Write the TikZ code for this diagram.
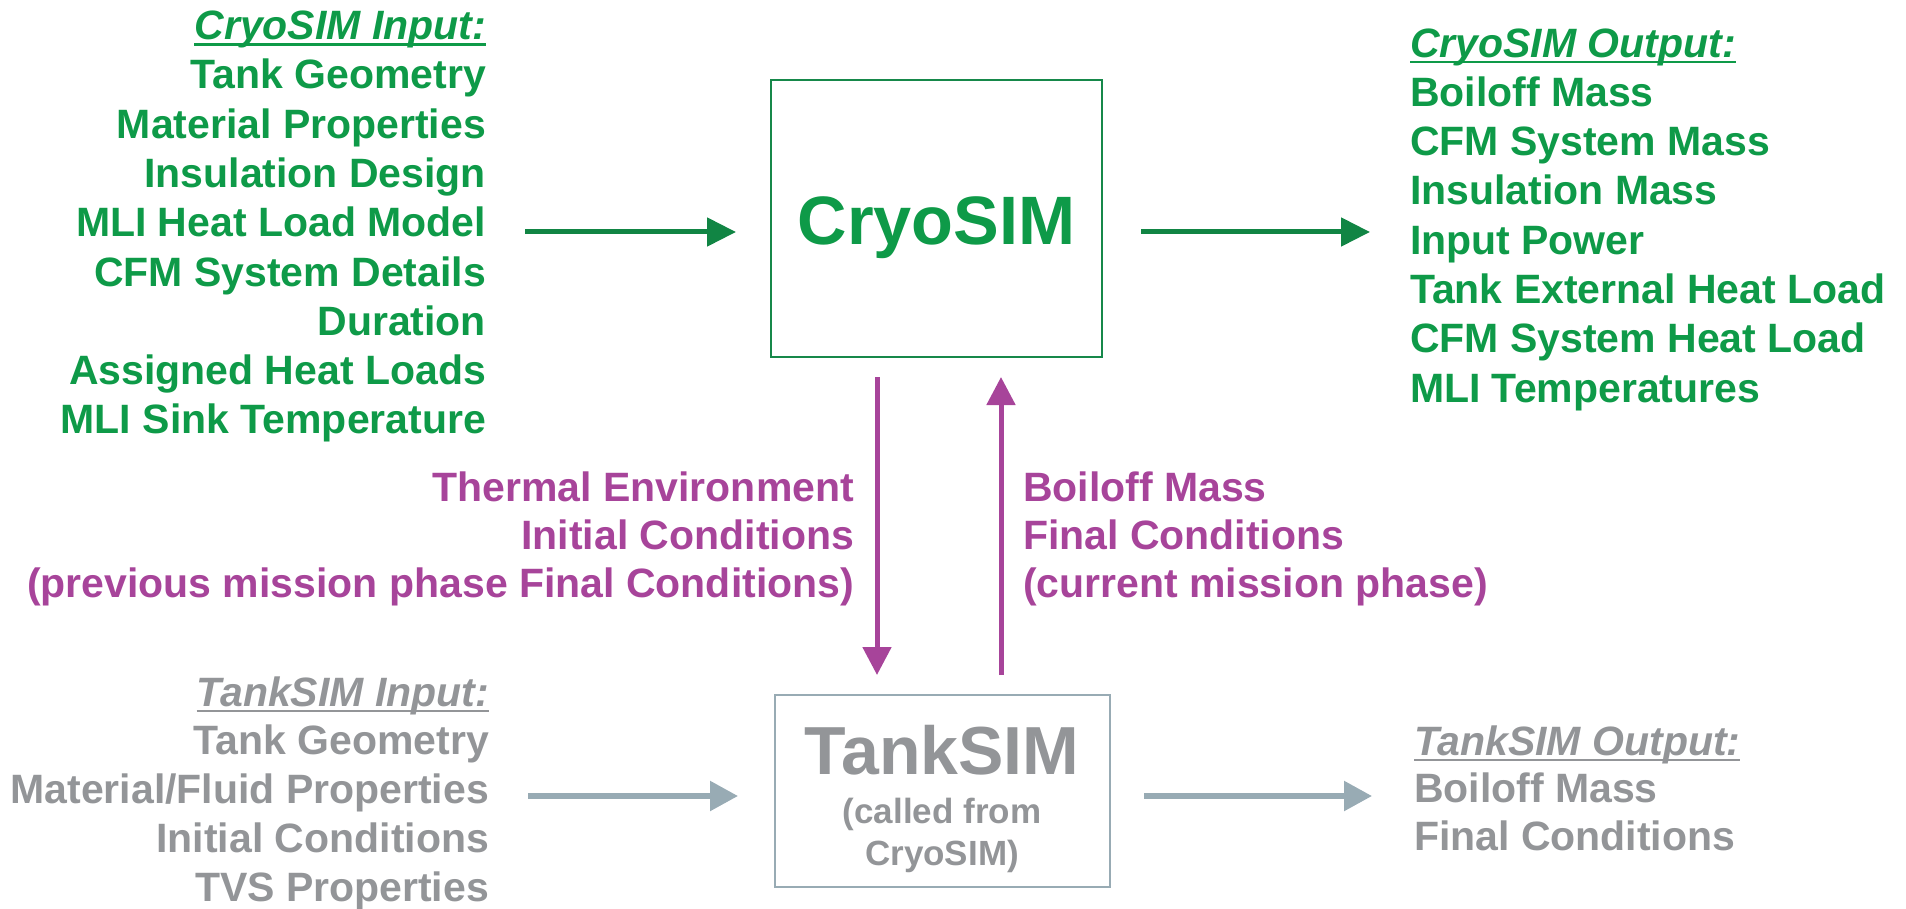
\documentclass[tikz,border=0pt]{standalone}
\usepackage{fontspec}
\setmainfont{Liberation Sans}
\usetikzlibrary{arrows.meta}
\definecolor{cgreen}{HTML}{0E9A48}
\definecolor{cboxgreen}{HTML}{16884A}
\definecolor{carrgreen}{HTML}{118544}
\definecolor{cpurple}{HTML}{A7449A}
\definecolor{cgray}{HTML}{939598}
\definecolor{cgrayblue}{HTML}{98ABB4}
\newsavebox\hdrbox
\newcommand\hdrline[1]{\sbox\hdrbox{\itshape #1}\rlap{\rule[-6pt]{\wd\hdrbox}{2.5pt}}\usebox\hdrbox}
\begin{document}
\begin{tikzpicture}[x=1pt,y=-1pt,
  every node/.style={inner sep=0pt,outer sep=0pt},
  txtblock/.style={font=\bfseries\fontsize{41}{49.3}\selectfont},
  purpblock/.style={font=\bfseries\fontsize{41}{48}\selectfont,text=cpurple},
  grayblock/.style={font=\bfseries\fontsize{41}{48.8}\selectfont,text=cgray},
  cryobox/.style={draw=cboxgreen,line width=2.5pt,minimum width=331pt,minimum height=277pt},
  tankbox/.style={draw=cgrayblue,line width=2pt,minimum width=335pt,minimum height=192pt},
  garr/.style={draw=carrgreen,line width=5pt,-{Triangle[length=29pt,width=28pt]}},
  parr/.style={draw=cpurple,line width=5pt,-{Triangle[length=28pt,width=28pt]}},
  barr/.style={draw=cgrayblue,line width=5.5pt,-{Triangle[length=28pt,width=29pt]}}]
\useasboundingbox (0,0) rectangle (1906,909);

% boxes
\node[cryobox] (cryo) at (936.5,218.5) {};
\node[font=\bfseries\fontsize{68.5}{80}\selectfont,text=cgreen,anchor=base] (cryolbl) at (936.5,245) {CryoSIM};
\node[tankbox] (tank) at (942.5,791) {};
\node[font=\bfseries\fontsize{68}{80}\selectfont,text=cgray,anchor=base] (tanklbl) at (942,774) {TankSIM};
\node[font=\bfseries\fontsize{35}{42}\selectfont,text=cgray,align=center,anchor=base] (tanksub) at (942,865) {(called from\\CryoSIM)};

% CryoSIM input/output (anchored at the baseline of the last line)
\node[txtblock,text=cgreen,align=right,anchor=base east] (cin) at (486,433.9)
  {\hdrline{CryoSIM Input:}\\Tank Geometry\\Material Properties\\Insulation Design\\MLI Heat Load Model\\CFM System Details\\Duration\\Assigned Heat Loads\\MLI Sink Temperature};
\node[txtblock,text=cgreen,align=left,anchor=base west] (cout) at (1410,402.1)
  {\hdrline{CryoSIM Output:}\\Boiloff Mass\\CFM System Mass\\Insulation Mass\\Input Power\\Tank External Heat Load\\CFM System Heat Load\\MLI Temperatures};

% exchanged data
\node[purpblock,align=right,anchor=base east] (pdown) at (854,597)
  {Thermal Environment\\Initial Conditions\\(previous mission phase Final Conditions)};
\node[purpblock,align=left,anchor=base west] (pup) at (1023,597)
  {Boiloff Mass\\Final Conditions\\(current mission phase)};

% TankSIM input/output
\node[grayblock,align=right,anchor=base east] (tin) at (489,901.2)
  {\hdrline{TankSIM Input:}\\Tank Geometry\\Material/Fluid Properties\\Initial Conditions\\TVS Properties};
\node[font=\bfseries\fontsize{41}{47.5}\selectfont,text=cgray,align=left,anchor=base west] (tout) at (1414,850)
  {\hdrline{TankSIM Output:}\\Boiloff Mass\\Final Conditions};

% connectors
\coordinate (gy) at (0,232);
\coordinate (ty) at (0,796);
\coordinate (px1) at (877,0);
\coordinate (px2) at (1001,0);
\draw[garr,shorten <=39pt,shorten >=35pt] (cin.east |- gy) -- (cryo.west |- gy);
\draw[garr,shorten <=39pt,shorten >=40pt] (cryo.east |- gy) -- (cout.west |- gy);
\draw[parr,shorten <=20pt,shorten >=20pt] (cryo.south -| px1) -- (tank.north -| px1);
\draw[parr,shorten <=20pt,shorten >=20pt] (tank.north -| px2) -- (cryo.south -| px2);
\draw[barr,shorten <=39pt,shorten >=37pt] (tin.east |- ty) -- (tank.west |- ty);
\draw[barr,shorten <=34pt,shorten >=42pt] (tank.east |- ty) -- (tout.west |- ty);
\end{tikzpicture}
\end{document}
